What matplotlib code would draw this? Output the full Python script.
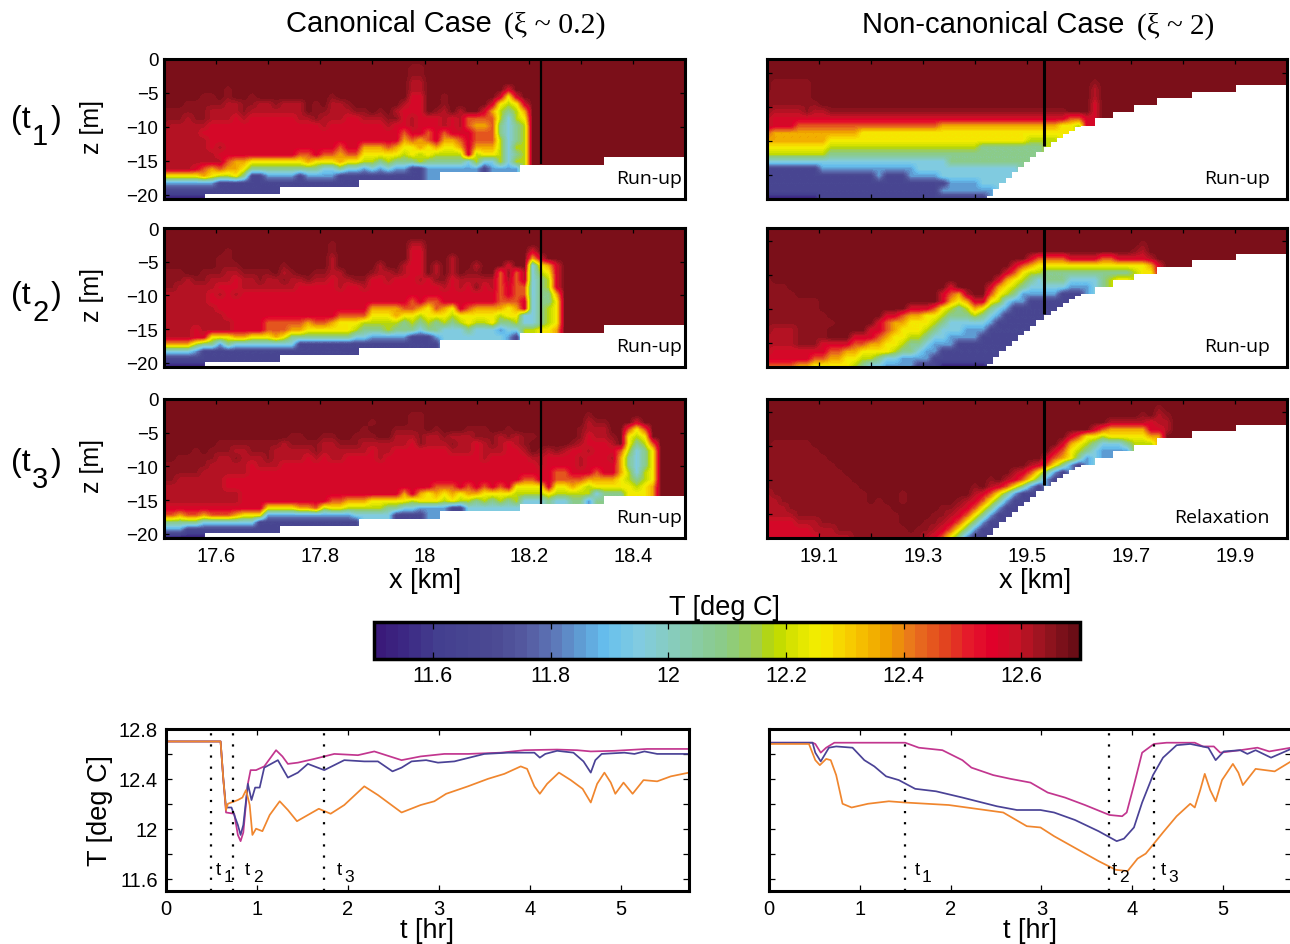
import numpy as np
import matplotlib
matplotlib.use('Agg')
import matplotlib.pyplot as plt
from matplotlib.colors import LinearSegmentedColormap, Normalize
from matplotlib.cm import ScalarMappable

plt.rcParams['font.family'] = ['Liberation Sans', 'DejaVu Sans']
plt.rcParams['axes.unicode_minus'] = True

W, H = 1290, 945

# ========== temperature codes used in the field rows ==========
LEVELS = {'0': 11.55, '1': 11.68, '2': 11.85, '3': 11.95, '4': 12.08, '5': 12.18, '6': 12.26,
          '7': 12.36, '8': 12.45, '9': 12.57, 'a': 12.61, 'b': 12.645, 'c': 12.675}

# ========== T fields, one string per 1 m layer ==========
FIELD_A1 = [
    "",
    "ccccc ccccc ccccc ccccc ccccc ccccc cbbcc",
    "ccccc ccccc ccccc ccccc ccccc ccccc cbbcc",
    "ccccc ccccc ccccc ccccc ccccc ccccc caacc",
    "ccccc cccbc ccccc ccccc ccccc ccccc caacc ccccc ccc9c",
    "ccccc bbcbc cbccc ccccc cbccc ccccc c99cc bcccc cc969",
    "cccbb bbbaa bbaab aaacb caabc ccccc a99cc bcccc c9656 9",
    "bbbbb baaaa baaaa aaacb baaab bcbca 999cb acacc 97545 7",
    "bbbab baaa9 a9999 99aab aaa99 aaabb 9a999 a9a88 88535 6",
    "baaaa a9999 99999 99999 a9999 999a9 9a999 a9a87 78434 5",
    "aaaaa 99999 99999 99999 99999 99999 89989 89998 88434 5",
    "aaaaa a9999 99999 99999 99999 99999 78789 77898 88534 5",
    "aaaaa a9a99 99999 99999 99899 77787 66767 66797 77535 5",
    "aaaaa aa999 99999 99889 88788 66666 56565 55595 66534 5",
    "aaaaa aaa87 76666 66676 66766 55454 44544 44435 33535 5",
    "aaaa9 87877 64444 44444 33433 23232 21122 22222 12222",
    "66666 76556 41122 22122 22111 11111 11122",
    "22222 22111 11111 11111 11111",
    "11111 11111 11111",
    "00000 00000",
]
FIELD_A2 = [
    "",
    "",
    "ccccc ccccc ccccc ccccc cbccc ccccc caacc",
    "ccccc cccbc ccccc ccccc cbccc ccccc c99cc ccccc ccccc c9ccc",
    "ccccc ccbbc ccccc ccccc caccc ccccc c99cc caccc ccccc c79cc",
    "ccccc ccbbb ccccc bcccc caccc ccacc a99ca cacca ccc9c c3679",
    "bbbcc bbbaa bbbbc abccb baacc cbaab a99ca cacbb cc8b8 a3569",
    "bbbab baaa9 aabaa baaba a9aab b99a9 99a9b b9aaa aa8a8 a3459",
    "bbaaa aa999 aaaaa aa999 99a99 a9999 99999 a9a9b 9a898 83459",
    "aaaaa a9a9a 99999 99999 99999 99999 99999 99999 99898 83447",
    "aaaaa a9999 99999 99999 99999 99999 98988 99999 99888 93446",
    "aaaaa aa999 99999 99999 99999 97777 88768 76987 77767 93456",
    "aaaaa aaa99 99999 99999 99888 86667 66566 65666 66566 33456",
    "aaaaa aaaa9 99988 88878 87666 55555 45454 54565 56445 33456",
    "aaaa9 aaaa9 99988 87766 66665 44454 44344 33343 33233 55667",
    "aaaa9 96667 76667 64444 44443 32222 21112 33333 33321 33",
    "77775 44243 33333 33111 11111 11111 11111 1",
    "33332 11111 11111 11111 11111",
    "11111 11111 11111",
    "00000 00000",
]
FIELD_A3 = [
    "",
    "",
    "ccccc ccccc ccccc ccccc ccccc ccccc cbbcc ccccc ccccc ccccc cccbc",
    "ccccc ccccc ccccc ccccc ccccc cbccc cbbcc ccccc ccccc ccccc cccab bccc9",
    "ccccc ccccc ccccc ccccc ccccc bcccb bbbcb cccbb bccbc ccccc ccbaa acc86 8",
    "ccccc ccccc ccccc cbbcc bbccb bbcca aabaa baaab bbaba bbccc ccb9a abc65 6",
    "ccccc ccbbb bbbbb abbbb aabbb aaaaa a9baa abaa9 aba9a bcccc cba99 9ac64 58",
    "ccccb cbbba abbba aaaab aaaaa a9aa9 99999 9aaa9 aaa99 acbab a99a9 99853 46",
    "ccbbb bbaab aaaba aaa9a 9aa99 99a99 99999 99999 a9999 9aa99 99a99 9a743 46",
    "bbbbb baaaa a9aaa 99999 99999 99999 99999 99999 99999 99a99 99a99 99743 46",
    "bbbbb aaaaa a9999 99999 99999 99999 99999 99999 99999 99998 89998 99753 56",
    "bbaaa aaa99 99999 99999 99999 99999 99999 99999 99999 88998 88877 77654 56",
    "aaaaa aaa99 99999 99999 99999 99999 99998 88989 89896 66696 67656 66665 67",
    "aaaaa aaaaa 99999 99999 99999 99999 79767 67677 66665 55565 55553 44466 67",
    "aaaaa aaaaa 99999 99999 98877 76666 65666 56554 54545 33343 34424 34666 77",
    "99999 99999 99966 66778 56655 55544 33222 21133 33333 33333",
    "88788 78887 66622 22222 22223 33331 11122",
    "44444 33333 33111 11111 11111",
    "22211 11111 11111",
    "00000 00000",
]
FIELD_B1 = [
    "c",
    "c",
    "c",
    "cbbbb bcccc ccccc ccccc ccccc ccccc ccccc ccccc cbccc",
    "cbbbb bcccc ccccc ccccc ccccc ccccc ccccc ccccc caccc",
    "bbbbb bcccc ccccc ccccc ccccc ccccc ccccc ccccc caccc",
    "bbbbb bbccc ccccc ccccc ccccc ccccc ccccc ccccc c9ccc",
    "baaaa baabb bbbbb bbbbb bbbbb bbbbb bbbbb bbbcc c9ccc",
    "a9999 99999 99999 99999 99999 99999 99999 99988 99ccc",
    "a9998 88888 88888 88888 88777 77777 77777 77665 9",
    "87777 77777 77666 66666 66666 66666 66666 66655",
    "77777 77766 66666 66666 66666 66666 66655 555",
    "66666 66655 55555 55555 55555 55444 44444",
    "55555 55544 44444 44444 44444 44444 44444",
    "33333 33333 33333 33333 33344 44444 4",
    "11111 11222 22222 22223 33333 33333",
    "11111 11111 11112 11122 22333 33333",
    "11111 11111 11111 11111 11122 22333",
    "11111 11111 11111 11111 11222 22222",
    "00000 00111 11111 11111 11111 11111",
]
FIELD_B2 = [
    "c",
    "c",
    "ccccc ccccc ccccc ccccc ccccc ccccc ccccc ccccc ccccc ccbcc",
    "ccccc ccccc ccccc ccccc ccccc ccccc ccccc ccccc ccccc cbacc",
    "ccccc ccccc ccccc ccccc ccccc ccccc ccc98 88899 99889 999ac",
    "ccccc ccccc ccccc ccccc ccccc ccccc c9876 66666 66666 66679 ccccc",
    "ccccc ccccc ccccc ccccc ccccc ccccc 98655 44444 44444 45667",
    "bcccc ccccc ccccc ccccc ccccc cccc9 76543 44433 33456",
    "bbbcc ccccc ccccc ccccc ccc9c ccc97 65433 33322 22",
    "bbbbc ccccc ccccc ccccc cc987 acc86 54222 22111 11",
    "bbbbb bbccc ccccc ccccc cc976 79965 32211 11111 11",
    "bbbbb bbccc ccccc ccc99 98654 57643 21111 11111",
    "bbbbb bbbcc ccccc 99877 66544 45432 11111 1",
    "bbbbb bbbbc cccc9 87766 65433 33321 11110",
    "baaab bbbcc ccc99 87666 54333 22211 1",
    "aaaab bbbcc c9998 76655 43322 22111 11",
    "aaaab bb999 98877 66544 32221 11111 1",
    "a9999 99988 77666 65443 22111 11111",
    "99999 98877 66554 33222 21111 11111",
    "88887 76666 65433 22221 11000 0",
]
FIELD_B3 = [
    "c",
    "ccccc ccccc ccccc ccccc ccccc ccccc ccccc ccccc ccccc ccccb c",
    "ccccc ccccc ccccc ccccc ccccc ccccc ccccc ccccc ccccc ccbca bc",
    "ccccc ccccc ccccc ccccc ccccc ccccc ccccc ccccc cccaa aaa9a ac",
    "ccccc ccccc ccccc ccccc ccccc ccccc ccccc ccccc c9877 77799 ac",
    "ccccc ccccc ccccc ccccc ccccc ccccc ccccc ccc98 66566 66677 c",
    "cbbbb bcccc ccccc ccccc ccccc ccccc ccccc cc976 54333 45",
    "bbbbb bbccc ccccc ccccc ccccc ccccc ccccc c9865 43222",
    "bbbbb bbbcc ccccc ccccc ccccc ccccc ccccc 98764 21",
    "bbbbb bbbbc ccccc ccccc ccccc ccccc ccca9 86421",
    "bbbbb bbbbb ccccc ccccc ccccc ccccc ca986 421",
    "bbbbb bbbbb bcccc ccccc ccccc cccbc a9864 21",
    "bbbbb bbbbb bbccc ccccc ccccc cbca9 86421",
    "abbbb bbbbb bbbcc ccbcc ccccc ca986 421",
    "aabbb bbbbb bbbcb ccbcc ccccb a9864 21",
    "aaabb bbbbb bbbbb bcccc ccbba 98642 1",
    "aaaab bbbbb bbbbb bbccc cbba9 86421",
    "9999a aabbb bbbbb bbccc bba98 6421",
    "99999 9aaab bbbbb bbbcb ba986 421",
    "99999 99aaa abbbb bbbbb a9864 21",
]

# ========== bottom steps (x of step start, z of bed) ==========
LAND_L_X = [17.578, 17.722, 17.874, 18.029, 18.183, 18.344]
LAND_L_Z = [-19.85, -18.8, -17.75, -16.65, -15.6, -14.4]
LAND_R_X = [19.4232, 19.4350, 19.4469, 19.4587, 19.4705, 19.4823, 19.4941, 19.5059, 19.5178, 19.5335,
            19.5453, 19.5571, 19.5689, 19.5808, 19.5926, 19.6037, 19.63, 19.666, 19.705, 19.75, 19.817, 19.902]
LAND_R_Z = [-20.1, -19.1, -18.3, -17.5, -16.7, -15.9, -15.2, -14.46, -13.7, -12.9,
            -12.25, -11.67, -11.08, -10.54, -10.05, -9.8, -8.7, -7.75, -6.76, -5.78, -4.8, -3.82]

# ========== colour bar anchors ==========
CB_T = [11.5, 11.55, 11.6, 11.7, 11.75, 11.8, 11.85, 11.89, 11.95, 12.0, 12.1, 12.15, 12.18, 12.22,
        12.26, 12.32, 12.38, 12.42, 12.48, 12.52, 12.56, 12.6, 12.65, 12.7]
CB_C = ['#3a1a7a', '#3d2a85', '#433f8f', '#4b4a93', '#54599f', '#5d76b7', '#5fa0d6', '#66bfee', '#82cce0',
        '#86ccc0', '#8ccb84', '#a2cf4a', '#b9d800', '#dde500', '#f6ee00', '#f7c700', '#ef9d00', '#e9751d',
        '#e2411f', '#e5172b', '#e0002a', '#c81226', '#95141f', '#6a0d16']
CB_TICKS = [11.6, 11.8, 12.0, 12.2, 12.4, 12.6]
CB_LABELS = ['11.6', '11.8', '12', '12.2', '12.4', '12.6']

# ========== time series, canonical ==========
M1_T = [0, 0.6, 0.63, 0.66, 0.75, 0.79, 0.82, 0.85, 0.9, 0.93, 0.99, 1.08, 1.21, 1.28, 1.34, 1.45, 1.63, 1.85,
        2.11, 2.29, 2.59, 2.8, 3.06, 3.32, 3.68, 3.94, 4.3, 4.52, 4.67, 4.93, 5.29, 5.75]
M1_V = [12.7, 12.7, 12.4, 12.13, 12.12, 11.95, 11.9, 11.97, 12.36, 12.47, 12.47, 12.5, 12.63, 12.58, 12.52, 12.53, 12.56, 12.6,
        12.59, 12.62, 12.55, 12.58, 12.6, 12.6, 12.61, 12.63, 12.635, 12.63, 12.62, 12.625, 12.64, 12.64]
B1_T = [0, 0.6, 0.63, 0.66, 0.72, 0.79, 0.82, 0.85, 0.9, 0.94, 0.98, 1.03, 1.08, 1.23, 1.34, 1.45, 1.56, 1.74, 1.96,
        2.18, 2.33, 2.49, 2.59, 2.7, 2.86, 2.99, 3.17, 3.5, 3.76, 4.05, 4.11, 4.17, 4.3, 4.48, 4.59, 4.67, 4.72, 4.79,
        5.04, 5.15, 5.26, 5.4, 5.75]
B1_V = [12.7, 12.7, 12.4, 12.17, 12.17, 12.03, 11.95, 12.03, 12.36, 12.23, 12.33, 12.33, 12.49, 12.55, 12.41, 12.45, 12.52, 12.47, 12.55,
        12.54, 12.54, 12.46, 12.49, 12.54, 12.55, 12.53, 12.54, 12.6, 12.61, 12.61, 12.57, 12.6, 12.625, 12.61, 12.54, 12.45, 12.55, 12.6,
        12.61, 12.6, 12.62, 12.6, 12.6]
O1_T = [0, 0.6, 0.63, 0.66, 0.68, 0.79, 0.84, 0.88, 0.92, 0.95, 0.99, 1.06, 1.14, 1.25, 1.34, 1.44, 1.56, 1.68, 1.81, 1.96,
        2.18, 2.33, 2.59, 2.8, 2.95, 3.08, 3.32, 3.54, 3.72, 3.9, 3.97, 4.05, 4.11, 4.19, 4.32, 4.45, 4.58, 4.67, 4.74,
        4.82, 4.89, 4.94, 5.03, 5.13, 5.25, 5.4, 5.55, 5.75]
O1_V = [12.7, 12.7, 12.4, 12.15, 12.2, 12.23, 12.25, 12.31, 12.19, 11.95, 12.0, 11.98, 12.11, 12.22, 12.15, 12.06, 12.11, 12.16, 12.12, 12.19,
        12.34, 12.27, 12.13, 12.19, 12.22, 12.28, 12.34, 12.4, 12.44, 12.5, 12.48, 12.34, 12.28, 12.36, 12.45, 12.39, 12.32, 12.21, 12.36,
        12.45, 12.37, 12.28, 12.37, 12.28, 12.39, 12.38, 12.42, 12.45]

# ========== time series, non-canonical ==========
M2_T = [0, 0.48, 0.51, 0.57, 0.63, 0.72, 1.02, 1.5, 1.65, 1.91, 2.13, 2.23, 2.47, 2.66, 2.88, 3.07, 3.26, 3.48, 3.75, 3.89, 3.94,
        4.02, 4.11, 4.24, 4.38, 4.69, 4.78, 4.9, 4.97, 5.19, 5.38, 5.51, 5.75]
M2_V = [12.69, 12.69, 12.68, 12.61, 12.65, 12.69, 12.69, 12.69, 12.65, 12.63, 12.55, 12.49, 12.43, 12.4, 12.37, 12.29, 12.25, 12.19, 12.11, 12.1, 12.13,
        12.35, 12.61, 12.68, 12.69, 12.69, 12.66, 12.66, 12.61, 12.63, 12.65, 12.62, 12.65]
B2_T = [0, 0.48, 0.51, 0.57, 0.66, 0.74, 0.92, 1.05, 1.16, 1.29, 1.43, 1.61, 1.84, 2.13, 2.51, 2.73, 2.99, 3.14, 3.37, 3.63, 3.83, 3.91,
        4.02, 4.11, 4.23, 4.34, 4.49, 4.64, 4.84, 4.92, 5.01, 5.19, 5.27, 5.36, 5.53, 5.75]
B2_V = [12.69, 12.69, 12.61, 12.54, 12.65, 12.66, 12.65, 12.55, 12.5, 12.42, 12.39, 12.32, 12.3, 12.25, 12.18, 12.15, 12.15, 12.13, 12.07, 11.98, 11.9, 11.92,
        12.01, 12.21, 12.43, 12.57, 12.67, 12.68, 12.65, 12.55, 12.62, 12.63, 12.6, 12.63, 12.57, 12.64]
O2_T = [0, 0.44, 0.51, 0.56, 0.63, 0.68, 0.74, 0.81, 0.91, 1.09, 1.32, 1.5, 1.98, 2.58, 2.84, 2.99, 3.14, 3.63, 3.82, 3.95, 4.06, 4.15, 4.24,
        4.34, 4.49, 4.64, 4.69, 4.75, 4.8, 4.86, 4.92, 4.99, 5.11, 5.17, 5.22, 5.36, 5.57, 5.75]
O2_V = [12.68, 12.68, 12.55, 12.51, 12.56, 12.55, 12.43, 12.2, 12.17, 12.2, 12.22, 12.21, 12.19, 12.13, 12.02, 12.01, 11.94, 11.74, 11.67, 11.66, 11.76, 11.8, 11.88,
        11.97, 12.1, 12.2, 12.17, 12.31, 12.44, 12.31, 12.22, 12.39, 12.52, 12.45, 12.35, 12.48, 12.46, 12.54]

EVENTS_1 = [0.49, 0.74, 1.74]
EVENTS_2 = [1.5, 3.74, 4.24]
PHASES = ['Run-up', 'Run-up', 'Run-up', 'Run-up', 'Run-up', 'Relaxation']

# ========== colour map ==========
t_span = CB_T[-1] - CB_T[0]
cmap = LinearSegmentedColormap.from_list('tcmap', [((t - CB_T[0]) / t_span, c) for t, c in zip(CB_T, CB_C)], N=60)
norm = Normalize(CB_T[0], CB_T[-1])

fig = plt.figure(figsize=(W / 100, H / 100), dpi=100)


def add_ax(x0, y0, x1, y1):
    return fig.add_axes([x0 / W, 1 - y1 / H, (x1 - x0) / W, (y1 - y0) / H])


def px_text(x, y, s, **kw):
    kw.setdefault('ha', 'center')
    kw.setdefault('va', 'center')
    fig.text(x / W, 1 - y / H, s, **kw)


def to_grid(rows, x0, x1, land_x, land_z, pad_last):
    ncol, dz, z_top = 66, 1.06, 0.25
    dx = (x1 - x0) / 65
    left = x0 - 0.5 * dx
    cells = []
    for r in rows:
        r = r.replace(' ', '')
        pad = r[-1] if (pad_last and r) else 'c'
        cells.append([LEVELS[c] for c in r.ljust(ncol, pad)[:ncol]])
    grid = np.array(cells)
    xc = left + (np.arange(ncol) + 0.5) * dx
    zc = z_top - (np.arange(len(rows)) + 0.5) * dz
    # cells under the bed take the last water value, the white step covers them
    for j in range(ncol):
        idx = np.searchsorted(land_x, xc[j], side='right') - 1
        if idx < 0:
            continue
        wet = np.where(zc > land_z[idx])[0]
        if len(wet) > 0:
            grid[wet[-1] + 1:, j] = grid[wet[-1], j]
    return grid, [left, left + ncol * dx, z_top - len(rows) * dz, z_top]


def panel(rect, rows, xlim, land_x, land_z, line_x, line_end, line_w, yticks, xticks, phase, phase_x, pad_last):
    ax = add_ax(*rect)
    grid, extent = to_grid(rows, xlim[0], xlim[1], land_x, land_z, pad_last)
    ax.imshow(grid, cmap=cmap, norm=norm, aspect='auto', extent=extent, interpolation='bilinear',
              interpolation_stage='data')
    sx = list(land_x) + [xlim[1]]
    sz = list(land_z) + [land_z[-1]]
    ax.fill_between(sx, sz, -25, step='post', color='white', lw=0, zorder=3)
    ax.plot([line_x, line_x], [0, line_end], color='black', lw=line_w, zorder=4, solid_capstyle='butt')
    ax.set_xlim(xlim)
    ax.set_ylim(-20.6, 0)
    ax.set_yticks(yticks)
    ax.set_xticks(xticks)
    ax.tick_params(direction='in', top=True, right=True, length=3.5, width=0.9, zorder=5)
    for s in ax.spines.values():
        s.set_linewidth(2.2)
        s.set_zorder(6)
    ax.text(phase_x, -17.5, phase, ha='right', va='center', fontsize=14, family='Open Sans', zorder=5)
    return ax


ROW_Y = [(60, 200), (229, 368), (400, 539)]
LEFT_FIELDS = [FIELD_A1, FIELD_A2, FIELD_A3]
RIGHT_FIELDS = [FIELD_B1, FIELD_B2, FIELD_B3]
XT_L = [17.6, 17.7, 17.8, 17.9, 18.0, 18.1, 18.2, 18.3, 18.4]
XT_R = [19.1, 19.2, 19.3, 19.4, 19.5, 19.6, 19.7, 19.8, 19.9]

for r in range(3):
    y0, y1 = ROW_Y[r]
    ax = panel((164, y0, 685, y1), LEFT_FIELDS[r], (17.5, 18.5), LAND_L_X, LAND_L_Z, 18.224, -15.5, 1.6,
               [0, -5, -10, -15, -20], XT_L, PHASES[r], 18.494, False)
    ax.set_yticklabels(['0', '\u22125', '\u221210', '\u221215', '\u221220'], fontsize=13.5)
    ax.tick_params(axis='y', pad=4)
    ax2 = panel((767, y0, 1287, y1), RIGHT_FIELDS[r], (19.0, 20.0), LAND_R_X, LAND_R_Z, 19.533, -12.8, 2.2,
                [-2, -7, -12, -17], XT_R, PHASES[3 + r], 19.967, True)
    ax2.set_yticklabels([])
    if r == 2:
        ax.set_xticklabels(['17.6', '', '17.8', '', '18', '', '18.2', '', '18.4'], fontsize=14.5)
        ax2.set_xticklabels(['19.1', '', '19.3', '', '19.5', '', '19.7', '', '19.9'], fontsize=14.5)
        ax.tick_params(axis='x', pad=6)
        ax2.tick_params(axis='x', pad=6)
    else:
        ax.set_xticklabels([])
        ax2.set_xticklabels([])
    px_text(92, (y0 + y1) / 2 - 3, 'z [m]', rotation=90, fontsize=18)

px_text(389, 24, 'Canonical Case', fontsize=21)
px_text(555, 25, '(\u03be ~ 0.2)', fontsize=21.5, family='Liberation Serif')
px_text(993, 25, 'Non-canonical Case', fontsize=21)
px_text(1176, 26, '(\u03be ~ 2)', fontsize=21, family='Liberation Serif')

px_text(425, 581, 'x [km]', fontsize=19.5)
px_text(1035, 581, 'x [km]', fontsize=19.5)

# time labels on the left of the rows
for lab, y in zip(['1', '2', '3'], [120, 296, 463]):
    px_text(11, y, '(t', fontsize=23, ha='left')
    px_text(32, y + 17, lab, fontsize=21, ha='left')
    px_text(51, y, ')', fontsize=23, ha='left')

# ========== colour bar ==========
cax = add_ax(374, 623, 1080, 660)
cb = fig.colorbar(ScalarMappable(norm=norm, cmap=cmap), cax=cax, orientation='horizontal')
cb.set_ticks(CB_TICKS)
cb.set_ticklabels(CB_LABELS)
cb.ax.tick_params(direction='in', length=5, width=0.9, top=True, bottom=True, labelsize=15.5, pad=4)
cb.outline.set_linewidth(2.5)
px_text(724, 608, 'T [deg C]', fontsize=19.5)


# ========== time series panels ==========
def series(rect, curves, events, labels):
    ax = add_ax(*rect)
    for t, v, col in curves:
        ax.plot(t, v, color=col, lw=1.25, solid_joinstyle='round')
    for e in events:
        ax.axvline(e, color='black', ls=(0, (1, 4)), lw=1.6)
    ax.set_xlim(0, 5.75)
    ax.set_ylim(11.5, 12.8)
    ax.set_xticks([0, 1, 2, 3, 4, 5])
    ax.set_yticks([11.6, 11.8, 12.0, 12.2, 12.4, 12.6, 12.8])
    ax.tick_params(direction='in', top=True, right=True, length=4, width=0.9, labelsize=14.5, pad=6)
    for s in ax.spines.values():
        s.set_linewidth(2.2)
    for x, num in labels:
        ax.text(x, 11.67, 't', fontsize=13.5, ha='left', va='center')
        ax.text(x + 0.085, 11.62, num, fontsize=12.5, ha='left', va='center')
    ax.set_xlabel('t [hr]', fontsize=19.5, labelpad=-1)
    return ax


ax = series((166, 730, 689, 892), [(M1_T, M1_V, '#c2368f'), (B1_T, B1_V, '#4a4296'), (O1_T, O1_V, '#f0862e')],
            EVENTS_1, [(0.55, '1'), (0.87, '2'), (1.88, '3')])
ax.set_yticklabels(['11.6', '', '12', '', '12.4', '', '12.8'])
ax.set_ylabel('T [deg C]', fontsize=19.5, labelpad=4)
ax = series((769, 730, 1291, 892), [(M2_T, M2_V, '#c2368f'), (B2_T, B2_V, '#4a4296'), (O2_T, O2_V, '#f0862e')],
            EVENTS_2, [(1.6, '1'), (3.77, '2'), (4.31, '3')])
ax.set_yticklabels([])

fig.savefig('out.png', dpi=100)
